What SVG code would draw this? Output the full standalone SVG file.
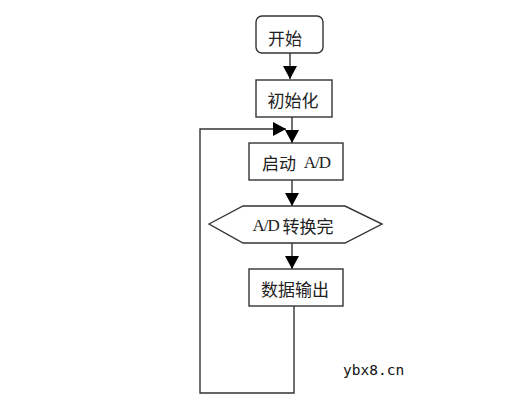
<svg xmlns="http://www.w3.org/2000/svg" width="521" height="401" viewBox="0 0 521 401">
<style>
.box{fill:#fff;stroke:#333;stroke-width:1.4}
.cn{font-family:"Noto Sans CJK SC","Liberation Sans",sans-serif;font-size:17px;fill:#222;text-anchor:middle;dominant-baseline:central}
.lat{font-family:"Liberation Serif",serif;letter-spacing:-1px}
.ln{fill:none;stroke:#333;stroke-width:1.4}
</style>
<defs>
<marker id="ah" markerUnits="userSpaceOnUse" markerWidth="16" markerHeight="16" viewBox="0 0 16 16" refX="14" refY="8" orient="auto">
<path d="M1,1 L14,8 L1,15 Z" fill="#000"/>
</marker>
</defs>
<rect width="521" height="401" fill="#fff"/>
<g id="connectors">
<line class="ln" x1="290" y1="53" x2="290" y2="79" marker-end="url(#ah)"/>
<line class="ln" x1="292" y1="117" x2="292" y2="143" marker-end="url(#ah)"/>
<line class="ln" x1="292" y1="180" x2="292" y2="206" marker-end="url(#ah)"/>
<line class="ln" x1="292" y1="243" x2="292" y2="269" marker-end="url(#ah)"/>
<polyline class="ln" points="294,306 294,393 200,393 200,129 286,129" marker-end="url(#ah)"/>
</g>
<g id="start">
<rect class="box" x="256" y="16" width="67" height="37" rx="6"/>
<text class="cn" x="285" y="37">开始</text>
</g>
<g id="init">
<rect class="box" x="256" y="80" width="76" height="37"/>
<text class="cn" x="293" y="99">初始化</text>
</g>
<g id="startAD">
<rect class="box" x="249" y="143" width="94" height="37"/>
<text class="cn" x="296" y="162">启动 <tspan class="lat" dx="4">A/D</tspan></text>
</g>
<g id="convDone">
<polygon class="box" points="209,224 243,206 345,206 382,224 345,243 243,243"/>
<text class="cn" x="293" y="225"><tspan class="lat">A/D</tspan> 转换完</text>
</g>
<g id="output">
<rect class="box" x="249" y="269" width="94" height="37"/>
<text class="cn" x="295" y="288">数据输出</text>
</g>
<text x="343" y="375" font-family="DejaVu Sans Mono,monospace" font-size="14.5" fill="#111">ybx8.cn</text>
</svg>
